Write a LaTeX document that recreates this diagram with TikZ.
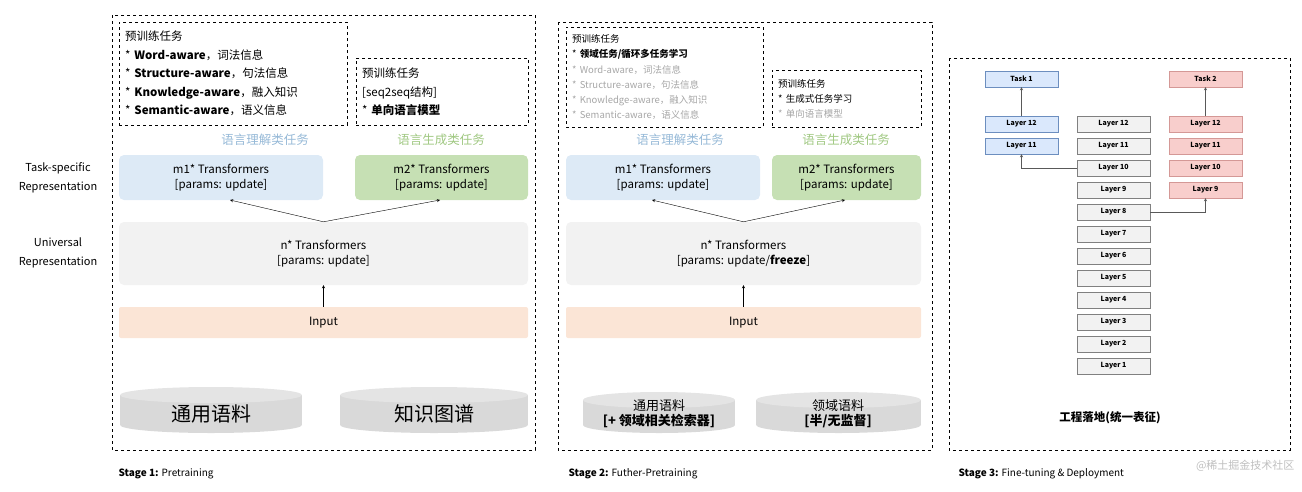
\documentclass[tikz,border=0pt]{standalone}
\usepackage{fontspec}
\setmainfont{Noto Sans CJK SC}
\usetikzlibrary{positioning}
\definecolor{blueF}{RGB}{221,234,246}
\definecolor{greenF}{RGB}{198,224,180}
\definecolor{greyF}{RGB}{242,242,242}
\definecolor{inF}{RGB}{251,229,214}
\definecolor{blueT}{RGB}{150,185,215}
\definecolor{greenT}{RGB}{160,200,130}
\definecolor{dbF}{RGB}{218,232,252}
\definecolor{dbD}{RGB}{108,142,191}
\definecolor{redF}{RGB}{248,206,204}
\definecolor{redD}{RGB}{184,84,80}
\definecolor{cylF}{RGB}{217,217,217}
\tikzset{
  stagebox/.style={draw,dashed,thin},
  taskbox/.style={draw,dashed,thin,align=left,anchor=north west,inner xsep=6pt,inner ysep=3pt},
  blk/.style={rounded corners=5pt,align=center,font=\fontsize{11.5}{15}\selectfont},
  lyr/.style={draw=gray,fill=greyF,minimum width=73pt,minimum height=16pt,inner sep=0pt,font=\fontsize{7}{8}\selectfont\bfseries},
  lyrb/.style={lyr,draw=dbD,fill=dbF},
  lyrr/.style={lyr,draw=redD!60,fill=redF},
  arr/.style={->,>=stealth,thin},
}
\newcommand{\cyl}[5]{% x1 x2 ytop ybottom name
  \fill[cylF] (#1,#3) rectangle (#2,#4);
  \fill[cylF] ({(#1+#2)/2},#4) ellipse ({(#2-#1)/2} and 8);
  \fill[cylF!70!white] ({(#1+#2)/2},#3) ellipse ({(#2-#1)/2} and 8);
  \coordinate (#5) at ({(#1+#2)/2},{(#3+#4)/2});
}
\begin{document}
\begin{tikzpicture}[x=1pt,y=-1pt]
\useasboundingbox (0,0) rectangle (1302,491);

% Stage 1
\draw[stagebox] (112,15) rectangle (535,450);
\node[taskbox,text width=216pt,minimum height=103pt,font=\fontsize{11.5}{18.5}\selectfont] (t1a) at (119,22)
 {预训练任务\\{*} \textbf{Word-aware}，词法信息\\{*} \textbf{Structure-aware}，句法信息\\{*} \textbf{Knowledge-aware}，融入知识\\{*} \textbf{Semantic-aware}，语义信息};
\node[taskbox,text width=160pt,minimum height=67pt,font=\fontsize{11.5}{18.5}\selectfont] (t1b) at (356,58)
 {预训练任务\\{[}seq2seq结构{]}\\{*} \textbf{单向语言模型}};
\node[text=blueT,font=\fontsize{12.5}{14}\selectfont] (u1) at (265,140) {语言理解类任务};
\node[text=greenT,font=\fontsize{12.5}{14}\selectfont] (g1) at (441,140) {语言生成类任务};
\node[blk,fill=blueF,minimum width=204pt,minimum height=45pt] (m1a) at (221,177.5) {m1* Transformers\\{[}params: update{]}};
\node[blk,fill=greenF,minimum width=173pt,minimum height=45pt] (m2a) at (441.5,177.5) {m2* Transformers\\{[}params: update{]}};
\node[blk,fill=greyF,minimum width=409pt,minimum height=63pt] (na) at (323.5,253.5) {n* Transformers\\{[}params: update{]}};
\node[blk,fill=inF,rounded corners=2pt,minimum width=409pt,minimum height=31pt] (ia) at (323.5,322.5) {Input};
\draw[arr] (na.north) -- (230,200);
\draw[arr] (na.north) -- (440,200);
\draw[arr] (ia.north) -- (na.south);
\cyl{120}{302}{395}{425}{c1}
\node[font=\fontsize{20}{22}\selectfont] at (211,414) {通用语料};
\cyl{340}{528}{395}{425}{c2}
\node[font=\fontsize{20}{22}\selectfont] at (434,414) {知识图谱};
\node[align=center,font=\fontsize{11}{19}\selectfont] (ts) at (58,178) {Task-specific\\Representation};
\node[align=center,font=\fontsize{11}{19}\selectfont] (ur) at (58,253) {Universal\\Representation};
\node[anchor=west,font=\fontsize{10}{12}\selectfont] (s1) at (115,474) {\textbf{Stage 1:} Pretraining};

% Stage 2
\draw[stagebox] (558,22) rectangle (932,450);
\node[taskbox,text width=185pt,minimum height=100pt,font=\fontsize{9.5}{15.3}\selectfont] (t2a) at (566,27)
 {预训练任务\\{*} \textbf{领域任务/循环多任务学习}\\\textcolor{gray!70}{* Word-aware，词法信息}\\\textcolor{gray!70}{* Structure-aware，句法信息}\\\textcolor{gray!70}{* Knowledge-aware，融入知识}\\\textcolor{gray!70}{* Semantic-aware，语义信息}};
\node[taskbox,text width=137pt,minimum height=57pt,font=\fontsize{9.5}{15.3}\selectfont] (t2b) at (772,70)
 {预训练任务\\{*} 生成式任务学习\\\textcolor{gray!70}{* 单向语言模型}};
\node[text=blueT,font=\fontsize{12.5}{14}\selectfont] (u2) at (680,140) {语言理解类任务};
\node[text=greenT,font=\fontsize{12.5}{14}\selectfont] (g2) at (846,140) {语言生成类任务};
\node[blk,fill=blueF,minimum width=194pt,minimum height=45pt] (m1b) at (663,177.5) {m1* Transformers\\{[}params: update{]}};
\node[blk,fill=greenF,minimum width=149pt,minimum height=45pt] (m2b) at (846.5,177.5) {m2* Transformers\\{[}params: update{]}};
\node[blk,fill=greyF,minimum width=355pt,minimum height=63pt] (nb) at (743.5,253.5) {n* Transformers\\{[}params: update/\textbf{freeze}{]}};
\node[blk,fill=inF,rounded corners=2pt,minimum width=355pt,minimum height=31pt] (ib) at (743.5,322.5) {Input};
\draw[arr] (nb.north) -- (652,200);
\draw[arr] (nb.north) -- (845,200);
\draw[arr] (ib.north) -- (nb.south);
\cyl{583}{735}{400}{425}{c3}
\node[align=center,font=\fontsize{13}{15}\selectfont] at (659,414) {通用语料\\\textbf{[+ 领域相关检索器]}};
\cyl{756}{921}{400}{425}{c4}
\node[align=center,font=\fontsize{13}{15}\selectfont] at (838,414) {领域语料\\\textbf{[半/无监督]}};
\node[anchor=west,font=\fontsize{10}{12}\selectfont] (s2) at (565,474) {\textbf{Stage 2:} Futher-Pretraining};

% Stage 3
\draw[stagebox] (949,58) rectangle (1290,450);
\foreach \i in {1,...,12}
  \node[lyr] (L\i) at (1113.5,{124+(12-\i)*22}) {Layer \i};
\node[lyrb] (B12) at (1021.5,124) {Layer 12};
\node[lyrb] (B11) at (1021.5,146) {Layer 11};
\node[lyrb] (T1) at (1021.5,79) {Task 1};
\foreach \i in {12,11,10,9}
  \node[lyrr] (R\i) at (1205.5,{124+(12-\i)*22}) {Layer \i};
\node[lyrr] (T2) at (1205.5,79) {Task 2};
\draw[arr,gray!70!black] (B12) -- (T1);
\draw[arr,gray!70!black] (R12) -- (T2);
\draw[arr,gray!70!black] (L10.west) -| (B11.south);
\draw[arr,gray!70!black] (L8.east) -| (R9.south);
\node[font=\fontsize{11.5}{13}\selectfont\bfseries] (eng) at (1110,418) {工程落地(统一表征)};
\node[anchor=west,font=\fontsize{10}{12}\selectfont] (s3) at (955,474) {\textbf{Stage 3:} Fine-tuning \& Deployment};
\node[anchor=east,text=gray!50,font=\fontsize{11}{13}\selectfont] (wm) at (1298,466) {@稀土掘金技术社区};
\end{tikzpicture}
\end{document}
